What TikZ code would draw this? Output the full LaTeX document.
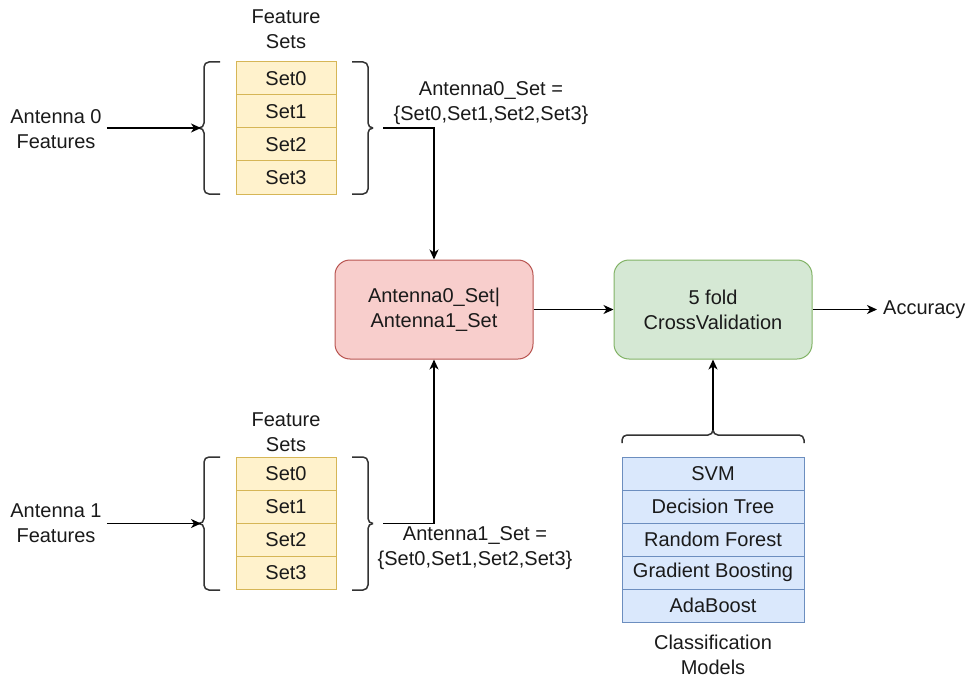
\documentclass[tikz,border=0pt]{standalone}
\usepackage{fontspec}
\setmainfont{Liberation Sans}
\usetikzlibrary{arrows.meta}
\definecolor{yfill}{HTML}{FFF2CC}\definecolor{ydraw}{HTML}{D6B656}
\definecolor{rfill}{HTML}{F8CECC}\definecolor{rdraw}{HTML}{B85450}
\definecolor{gfill}{HTML}{D5E8D4}\definecolor{gdraw}{HTML}{82B366}
\definecolor{bfill}{HTML}{DAE8FC}\definecolor{bdraw}{HTML}{6C8EBF}
\definecolor{txt}{HTML}{1A1A1A}
\begin{document}
\begin{tikzpicture}[x=1pt,y=-1pt,
  every node/.style={font=\fontsize{20}{25}\selectfont, text=txt, inner sep=0pt},
  lbl/.style={align=center},
  setrow/.style={draw=ydraw, fill=yfill, line width=1pt, minimum width=100pt, minimum height=33pt},
  modrow/.style={draw=bdraw, fill=bfill, line width=1pt, minimum width=182pt, minimum height=33pt},
  procbox/.style={rounded corners=15pt, line width=1pt, minimum width=198pt, minimum height=99pt, align=center},
  conn/.style={draw=black, line width=1.5pt, -{Stealth[length=10pt,width=9pt,inset=3pt]}},
  bracket/.style={draw=black!80, line width=1.5pt, rounded corners=5pt}]
\useasboundingbox (0,0) rectangle (968,679);

% top feature sets
\node[lbl] (fs0) at (286,29.5) {Feature\\Sets};
\node[setrow] (a0s0) at (286,78.5) {Set0};
\node[setrow] (a0s1) at (286,111.5) {Set1};
\node[setrow] (a0s2) at (286,144.5) {Set2};
\node[setrow] (a0s3) at (286,177.5) {Set3};

% bottom feature sets
\node[lbl] (fs1) at (286,432.5) {Feature\\Sets};
\node[setrow] (a1s0) at (286,473.5) {Set0};
\node[setrow] (a1s1) at (286,506.5) {Set1};
\node[setrow] (a1s2) at (286,539.5) {Set2};
\node[setrow] (a1s3) at (286,572.5) {Set3};

% models
\node[modrow] (m0) at (713,473.5) {SVM};
\node[modrow] (m1) at (713,506.5) {Decision Tree};
\node[modrow] (m2) at (713,539.5) {Random Forest};
\node[modrow] (m3) at (713,572.5) {Gradient Boosting};
\node[modrow] (m4) at (713,605.5) {AdaBoost};
\node[lbl] (cm) at (713,655) {Classification\\Models};

% inputs
\node[lbl] (ant0) at (56,129) {Antenna 0\\Features};
\node[lbl] (ant1) at (56,523) {Antenna 1\\Features};

% set labels
\node[lbl] (lab0) at (491,103) {Antenna0\_Set =\\\{Set0,Set1,Set2,Set3\}};
\node[lbl] (lab1) at (475,548.5) {Antenna1\_Set =\\\{Set0,Set1,Set2,Set3\}};

% process boxes
\node[procbox, draw=rdraw, fill=rfill] (red) at (434,309.5) {Antenna0\_Set|\\Antenna1\_Set};
\node[procbox, draw=gdraw, fill=gfill] (green) at (713,309.5) {5 fold\\CrossValidation};
\node[anchor=west] (acc) at (883,309.5) {Accuracy};

% brackets
\draw[bracket] (220,62) -| (204,128) -- (199,128);
\draw[bracket] (220,194) -| (204,128) -- (199,128);
\draw[bracket] (352,62) -| (368,128) -- (373,128);
\draw[bracket] (352,194) -| (368,128) -- (373,128);
\draw[bracket] (220,457) -| (204,523.5) -- (199,523.5);
\draw[bracket] (220,590) -| (204,523.5) -- (199,523.5);
\draw[bracket] (352,457) -| (368,523.5) -- (373,523.5);
\draw[bracket] (352,590) -| (368,523.5) -- (373,523.5);
\draw[bracket] (622,443) |- (713,435) -- (713,430);
\draw[bracket] (804,443) |- (713,435) -- (713,430);

\coordinate (lb0) at (201,128);
\coordinate (rb0) at (383,128);
\coordinate (lb1) at (201,523.5);
\coordinate (rb1) at (383,523.5);
\coordinate (mb) at (713,430);

% connectors
\draw[conn, shorten <=5pt] (ant0.east |- lb0) -- (lb0);
\draw[conn, shorten <=5pt] (ant1.east |- lb1) -- (lb1);
\draw[conn] (rb0) -| (red.north);
\draw[conn] (rb1) -| (red.south);
\draw[conn] (red) -- (green);
\draw[conn, shorten >=6pt] (green.east) -- (acc.west);
\draw[conn] (mb) -- (green.south);
\end{tikzpicture}
\end{document}
